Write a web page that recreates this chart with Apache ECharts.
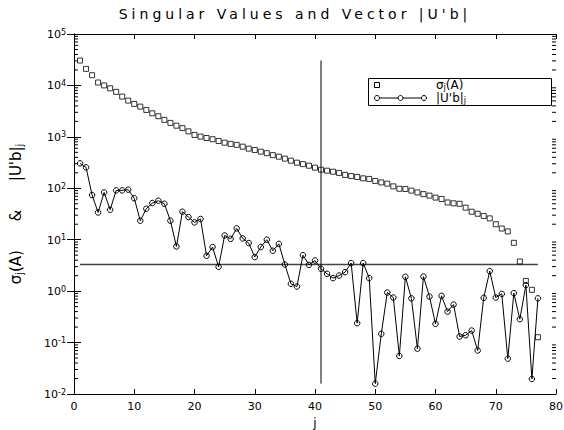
<!DOCTYPE html>
<html><head><meta charset="utf-8">
<script src="https://cdn.jsdelivr.net/npm/echarts@6/dist/echarts.min.js"></script>
<style>html,body{margin:0;padding:0;background:#fff}#c{width:564px;height:430px}</style>
</head><body><div id="c"></div>
<script>
const titleText = "Singular Values and Vector |U'b|";
const jIndex = [1,2,3,4,5,6,7,8,9,10,11,12,13,14,15,16,17,18,19,20,21,22,23,24,25,26,27,28,29,30,31,32,33,34,35,36,37,38,39,40,41,42,43,44,45,46,47,48,49,50,51,52,53,54,55,56,57,58,59,60,61,62,63,64,65,66,67,68,69,70,71,72,73,74,75,76,77];
const sigmaA = [30500,21000,15800,11400,10000,8800,7500,6070,5070,4370,
  3870,3340,2870,2520,2140,1870,1650,1480,1280,1090,
  1010,950,900,830,770,730,700,645,590,556,
  515,482,441,412,377,344,315,295,275,252,
  230,220,210,199,182,173,166,156,152,139,
  130,123,109,98,97,90,83,77,72,66,
  62,53,51,50,42,35,32,29,26,20,
  16.5,14.5,8.7,3.77,1.58,1.06,0.127];
const absUtb = [305,255,74,33.9,83,38.3,91,91,94,64,
  23.4,40,51.6,57.3,50,23.4,7.4,35,27.6,21.7,
  25.3,4.87,7.2,2.97,12.1,10.4,16.6,10.6,8.6,4.6,
  7.2,10,6.1,8.3,3.3,1.39,1.23,5.0,3.25,3.94,
  2.72,2.17,1.79,2.01,2.34,3.51,0.238,3.51,1.79,0.0159,
  0.148,0.94,0.75,0.055,1.90,0.724,0.076,1.92,0.785,0.231,
  0.81,0.40,0.548,0.131,0.139,0.171,0.070,0.74,2.45,0.75,
  0.885,0.0487,0.914,0.285,1.31,0.0196,0.724];
const cutoffIndex = 41;
const noiseLevel = 3.3;
const xMin = 0, xMax = 80, xStep = 10;
const yMin = 0.01, yMax = 100000;
const minorMantissas = [2,3,4,5,6,7,8,9];
const decadeStarts = [0.01,0.1,1,10,100,1000,10000];

const FONT = 'DejaVu Sans';
const minorTickValues = [];
decadeStarts.forEach(d => minorMantissas.forEach(m => minorTickValues.push([0, d * m])));

const chart = echarts.init(document.getElementById('c'), null, {renderer: 'svg'});
const axisLineStyle = {show: true, lineStyle: {color: '#000', width: 1}};
const option = {
  animation: false,
  backgroundColor: '#fff',
  title: {
    text: titleText, left: 290, top: 2, textAlign: 'center',
    textStyle: {fontFamily: FONT, fontSize: 14, fontWeight: 'normal', color: '#000'}
  },
  grid: {left: 74, top: 34, width: 482, height: 360, outerBoundsMode: 'none', containLabel: false},
  xAxis: [{
    type: 'value', min: xMin, max: xMax, interval: xStep, position: 'bottom',
    axisLine: axisLineStyle,
    axisTick: {show: true, inside: true, length: 5, lineStyle: {color: '#000'}},
    axisLabel: {color: '#000', fontFamily: FONT, fontSize: 11, margin: 7},
    splitLine: {show: false},
    name: 'j', nameLocation: 'middle', nameGap: 20,
    nameTextStyle: {color: '#000', fontFamily: FONT, fontSize: 12, lineHeight: 13}
  }, {
    type: 'value', min: xMin, max: xMax, interval: xStep, position: 'top',
    axisLine: axisLineStyle,
    axisTick: {show: true, inside: true, length: 5, lineStyle: {color: '#000'}},
    axisLabel: {show: false}, splitLine: {show: false}
  }],
  yAxis: [{
    type: 'log', logBase: 10, min: yMin, max: yMax, position: 'left',
    axisLine: axisLineStyle,
    axisTick: {show: true, inside: true, length: 7, lineStyle: {color: '#000'}},
    axisLabel: {
      color: '#000', margin: 8,
      formatter: v => '{b|10}{s|' + Math.round(Math.log10(v)) + '}',
      rich: {
        b: {fontFamily: FONT, fontSize: 11, lineHeight: 12, verticalAlign: 'bottom', color: '#000'},
        s: {fontFamily: FONT, fontSize: 8, lineHeight: 8, padding: [0,0,6,0], verticalAlign: 'top', color: '#000'}
      }
    },
    splitLine: {show: false},
    name: "{n|σ}{sub|j}{n|(A)      &      |U'b|}{sub|j}",
    nameLocation: 'middle', nameGap: 50,
    nameTextStyle: {
      rich: {
        n: {fontFamily: FONT, fontSize: 15, lineHeight: 16, verticalAlign: 'top', color: '#000'},
        sub: {fontFamily: FONT, fontSize: 10, lineHeight: 10, padding: [6,0,0,0], verticalAlign: 'bottom', color: '#000'}
      }
    }
  }, {
    type: 'log', logBase: 10, min: yMin, max: yMax, position: 'right',
    axisLine: axisLineStyle,
    axisTick: {show: true, inside: true, length: 7, lineStyle: {color: '#000'}},
    axisLabel: {show: false}, splitLine: {show: false}
  }],
  series: [
    {
      type: 'custom', name: 'minorTicks', silent: true, xAxisIndex: 0, yAxisIndex: 0,
      data: minorTickValues, clip: false, z: 1,
      renderItem: (params, api) => {
        const pl = api.coord([xMin, api.value(1)]);
        const pr = api.coord([xMax, api.value(1)]);
        const y = pl[1];
        const L = 4;
        return {type: 'group', children: [
          {type: 'line', shape: {x1: pl[0], y1: y, x2: pl[0] + L, y2: y}, style: {stroke: '#000', lineWidth: 1}},
          {type: 'line', shape: {x1: pr[0] - L, y1: y, x2: pr[0], y2: y}, style: {stroke: '#000', lineWidth: 1}}
        ]};
      }
    },
    {
      type: 'line', name: 'noise', data: [[jIndex[0], noiseLevel], [jIndex[jIndex.length - 1], noiseLevel]],
      symbol: 'none', lineStyle: {color: '#444', width: 1.5}, silent: true, z: 2
    },
    {
      type: 'line', name: 'cutoff', data: [[cutoffIndex, Math.min(...absUtb)], [cutoffIndex, Math.max(...sigmaA)]],
      symbol: 'none', lineStyle: {color: '#000', width: 1}, silent: true, z: 2
    },
    {
      type: 'scatter', name: 'sigma', data: jIndex.map((j, i) => [j, sigmaA[i]]),
      symbol: 'rect', symbolSize: 5,
      itemStyle: {color: 'rgba(0,0,0,0)', borderColor: '#000', borderWidth: 1}, z: 3
    },
    {
      type: 'line', name: 'Ub', data: jIndex.map((j, i) => [j, absUtb[i]]),
      symbol: 'circle', symbolSize: 5.5, showAllSymbol: true,
      lineStyle: {color: '#000', width: 1},
      itemStyle: {color: 'rgba(0,0,0,0)', borderColor: '#000', borderWidth: 1}, z: 3
    }
  ],
  graphic: [{
    type: 'group', left: 368, top: 78, children: [
      {type: 'rect', shape: {x: 0.5, y: 0.5, width: 183, height: 27}, style: {fill: '#fff', stroke: '#000', lineWidth: 1}},
      {type: 'rect', shape: {x: 6.5, y: 4.5, width: 5, height: 5}, style: {fill: 'none', stroke: '#000', lineWidth: 1}},
      {type: 'line', shape: {x1: 9, y1: 20, x2: 56, y2: 20}, style: {stroke: '#000', lineWidth: 1}},
      {type: 'circle', shape: {cx: 9, cy: 20, r: 2.5}, style: {fill: '#fff', stroke: '#000', lineWidth: 1}},
      {type: 'circle', shape: {cx: 32.5, cy: 20, r: 2.5}, style: {fill: '#fff', stroke: '#000', lineWidth: 1}},
      {type: 'circle', shape: {cx: 56, cy: 20, r: 2.5}, style: {fill: '#fff', stroke: '#000', lineWidth: 1}},
      {type: 'text', x: 68, y: 7, style: {
        text: '{n|σ}{sub|j}{n|(A)}', verticalAlign: 'middle',
        rich: {
          n: {fontFamily: FONT, fontSize: 12, lineHeight: 13, verticalAlign: 'top', fill: '#000'},
          sub: {fontFamily: FONT, fontSize: 8, lineHeight: 8, padding: [4,0,0,0], verticalAlign: 'bottom', fill: '#000'}
        }}},
      {type: 'text', x: 68, y: 20, style: {
        text: "{n||U'b|}{sub|j}", verticalAlign: 'middle',
        rich: {
          n: {fontFamily: FONT, fontSize: 12, lineHeight: 13, verticalAlign: 'top', fill: '#000'},
          sub: {fontFamily: FONT, fontSize: 8, lineHeight: 8, padding: [4,0,0,0], verticalAlign: 'bottom', fill: '#000'}
        }}}
    ]
  }]
};
chart.setOption(option);
function spaceTitle() {
  document.querySelectorAll('#c svg text').forEach(t => {
    if (t.textContent === titleText) t.style.letterSpacing = '4px';
  });
}
chart.on('finished', spaceTitle);
spaceTitle();
</script>
</body></html>
